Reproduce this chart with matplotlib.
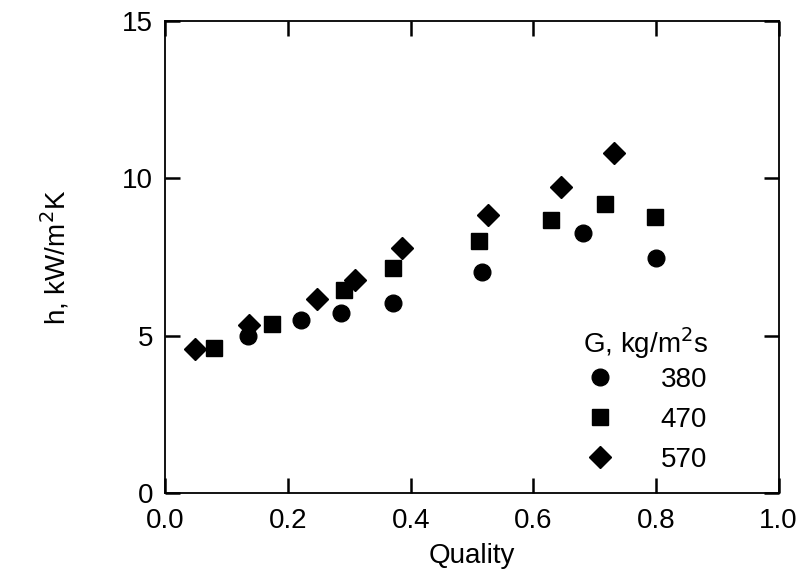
import matplotlib
matplotlib.use("Agg")
import matplotlib.pyplot as plt

plt.rcParams['font.family'] = ['Liberation Sans', 'DejaVu Sans']

# G = 380 kg/m2s
q380 = [0.134, 0.221, 0.287, 0.371, 0.517, 0.681, 0.800]
h380 = [4.98, 5.50, 5.71, 6.03, 7.03, 8.27, 7.47]
# G = 470 kg/m2s
q470 = [0.079, 0.173, 0.291, 0.371, 0.511, 0.629, 0.717, 0.798]
h470 = [4.61, 5.38, 6.45, 7.15, 8.00, 8.68, 9.17, 8.76]
# G = 570 kg/m2s
q570 = [0.049, 0.136, 0.247, 0.309, 0.386, 0.526, 0.645, 0.731]
h570 = [4.56, 5.35, 6.15, 6.77, 7.78, 8.84, 9.72, 10.79]

xticks = [0.0, 0.2, 0.4, 0.6, 0.8, 1.0]
yticks = [0, 5, 10, 15]

fig = plt.figure(figsize=(8.11, 5.78), dpi=100)
ax = fig.add_axes([0.204, 0.147, 0.756, 0.817])

ax.plot(q380, h380, 'o', color='black', ms=12, ls='none', label='380')
ax.plot(q470, h470, 's', color='black', ms=12, ls='none', label='470')
ax.plot(q570, h570, 'D', color='black', ms=11, ls='none', label='570')

ax.set_xlim(0, 1.0)
ax.set_ylim(0, 15)
ax.set_xticks(xticks)
ax.set_yticks(yticks)
ax.set_xticklabels(['0.0', '0.2', '0.4', '0.6', '0.8', '1.0'])
ax.tick_params(direction='in', length=11, width=1.8, top=True, right=True,
               labelsize=20)
ax.tick_params(axis='x', pad=11)
ax.tick_params(axis='y', pad=9)
for s in ax.spines.values():
    s.set_linewidth(1.3)

ax.set_xlabel('Quality', fontsize=20, labelpad=6)
ax.set_ylabel('h, kW/m$^2$K', fontsize=20, labelpad=36)

leg = ax.legend(title='G, kg/m$^2$s', loc='lower left', bbox_to_anchor=(0.64, -0.01),
                frameon=False, fontsize=20, title_fontsize=20, handletextpad=1.6,
                labelspacing=0.5, alignment='left', handlelength=1.2)
leg._legend_box.sep = 4

fig.savefig('out.png', dpi=100)
